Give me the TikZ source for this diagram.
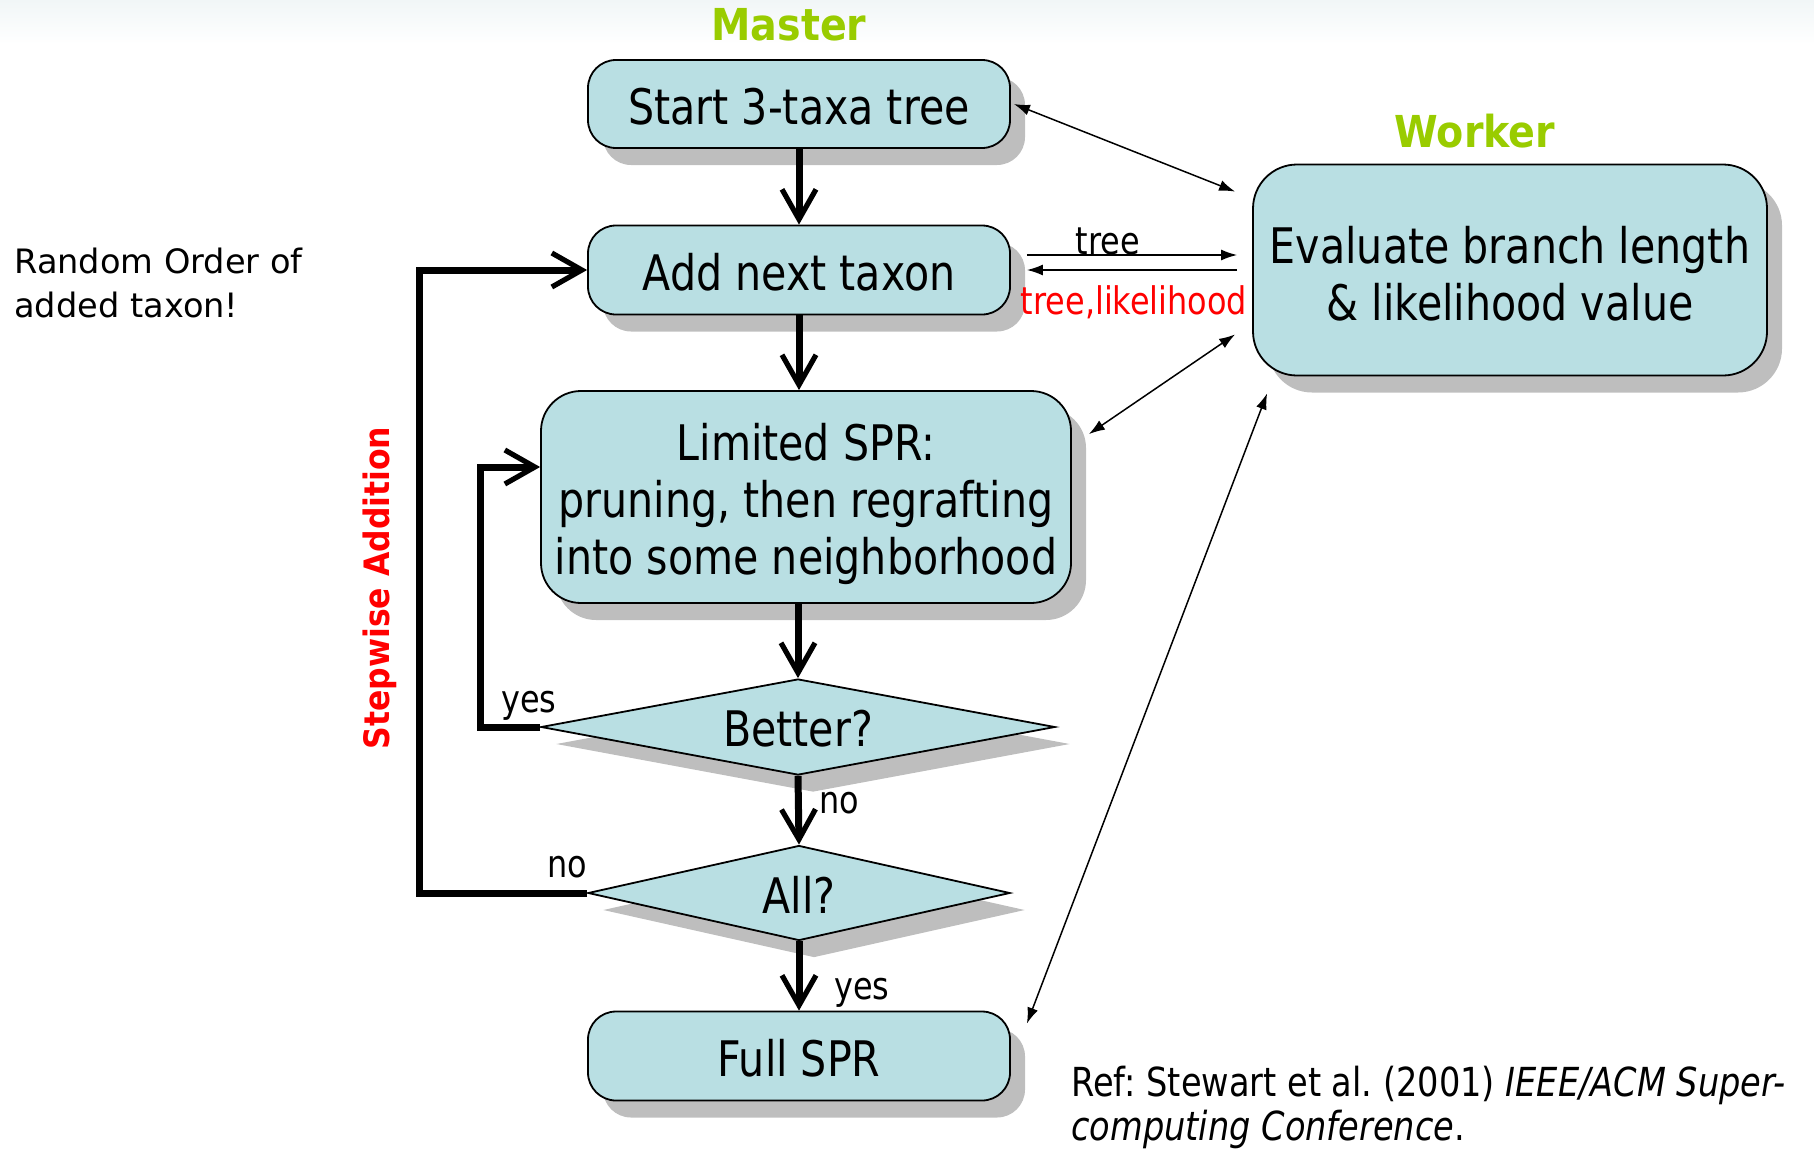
\documentclass[tikz,border=0pt]{standalone}
\usepackage{fontspec}
\setmainfont{DejaVu Sans}
\newfontfamily\condfont[FakeStretch=0.84]{DejaVu Sans}
\newfontfamily\headfont[FakeStretch=0.9]{DejaVu Sans}
\usetikzlibrary{arrows.meta,shapes.geometric,shadows,calc}
\frenchspacing

\definecolor{boxfill}{HTML}{B9DFE3}
\definecolor{shadegray}{HTML}{BEBEBE}
\definecolor{mastergreen}{HTML}{99CC00}
\definecolor{topband}{HTML}{F1F6F7}

\begin{document}
\begin{tikzpicture}[x=0.5pt,y=-0.5pt,
  boxshadow/.style={drop shadow={shadow xshift=7.5pt, shadow yshift=-8.5pt, fill=shadegray, opacity=1}},
  proc/.style={draw=black, line width=0.9pt, fill=boxfill, rounded corners=14pt,
    align=center, inner sep=0pt, boxshadow,
    font=\condfont\fontsize{24.5}{28.5}\selectfont},
  decide/.style={draw=black, line width=0.9pt, fill=boxfill, diamond, aspect=5,
    inner sep=0pt, boxshadow, font=\condfont\fontsize{24.5}{28.5}\selectfont},
  flow/.style={line width=3.5pt, -{Straight Barb[length=15pt,width=17pt,line width=2.6pt]}},
  link/.style={line width=0.75pt, {Latex[length=8pt,width=5.5pt]}-{Latex[length=8pt,width=5.5pt]}},
  onelink/.style={line width=0.75pt, -{Latex[length=8pt,width=5.5pt]}},
  lbl/.style={inner sep=0pt, font=\condfont\fontsize{19}{22}\selectfont},
  title/.style={inner sep=0pt, text=mastergreen, font=\headfont\bfseries\fontsize{22}{26}\selectfont}
]
\useasboundingbox (0,0) rectangle (1814,1151);

% faint band along the top edge
\shade[top color=topband, bottom color=white] (0,0) rectangle (1814,44);

% column titles
\node[title] (mastertitle) at (789,25) {Master};
\node[title] (workertitle) at (1475,131) {Worker};

% master flow
\node[proc, minimum width=211pt, minimum height=44pt] (start) at (799,104) {\rule{0pt}{21pt}Start 3-taxa tree};
\node[proc, minimum width=211pt, minimum height=44.5pt] (add) at (799,270) {\rule{0pt}{21pt}Add next taxon};
\node[proc, rounded corners=20pt, minimum width=265pt, minimum height=106pt] (spr) at (806,497)
  {\rule{0pt}{26pt}Limited SPR:\\pruning, then regrafting\\into some neighborhood};
\node[decide, minimum width=257pt, minimum height=48pt] (better) at (798,727) {\rule{0pt}{20pt}Better?};
\node[decide, minimum width=211pt, minimum height=47.5pt] (all) at (799,893) {\rule{0pt}{20pt}All?};
\node[proc, minimum width=211pt, minimum height=44.5pt] (full) at (799,1056) {\rule{0pt}{21pt}Full SPR};

% worker
\node[proc, rounded corners=22pt, minimum width=257pt, minimum height=105.5pt] (worker) at (1510,270)
  {\rule{0pt}{22pt}Evaluate branch length\\\& likelihood value};

% main flow arrows
\draw[flow] (start.south) -- (add.north);
\draw[flow] (add.south) -- (add.south |- spr.north);
\draw[flow] (better.north |- spr.south) -- (better.north);
\draw[flow] (better.south) -- (all.north);
\draw[flow] (all.south) -- (full.north);

% loops back
\draw[flow] (all.west) -- ++(-168,0) |- (add.west);
\draw[flow] (better.west) -- ++(-60,0) |- ([yshift=15pt]spr.west);

% decision labels
\node[lbl] (yesloop) at (529,706) {yes};
\node[lbl] (nonext) at (839,803) {no};
\node[lbl] (noloop) at (567,867) {no};
\node[lbl] (yesdone) at (862,993) {yes};

% master <-> worker messages
\draw[link] ([xshift=1.5pt]start.east) -- ([xshift=-8.5pt,yshift=-14pt]worker.north west);
\coordinate (wl) at ([xshift=-7.5pt]worker.west);
\coordinate (al) at ([xshift=8pt]add.east);
\coordinate (al2) at ([yshift=7.5pt]al);
\draw[onelink] (al2) -- (al2 -| wl);
\draw[onelink] (al -| wl) -- (al);
\node[lbl] (treelbl) at (1108,241) {tree};
\node[lbl, text=red] (likelbl) at (1134,302) {tree,likelihood};
\draw[link] ([xshift=8.5pt,yshift=-22pt]spr.north east) -- ([xshift=-8.5pt,yshift=21pt]worker.south west);
\draw[link] ([xshift=8pt,yshift=-6.5pt]full.north east) -- ([xshift=7.5pt,yshift=-8.5pt]worker.south west);

% side notes
\node[anchor=north west, align=left, inner sep=0pt, font=\fontsize{16.8}{22}\selectfont] (note) at (14,248)
  {Random Order of\\added taxon!};
\node[rotate=90, text=red, inner sep=0pt, font=\headfont\bfseries\fontsize{17.5}{20}\selectfont] (stepwise) at (380,588)
  {Stepwise Addition};
\node[anchor=north west, align=left, inner sep=0pt, font=\condfont\fontsize{20}{22}\selectfont] (ref) at (1071,1066)
  {Ref: Stewart et al. (2001) \textit{IEEE/ACM Super-}\\\textit{computing Conference}.};
\end{tikzpicture}
\end{document}
